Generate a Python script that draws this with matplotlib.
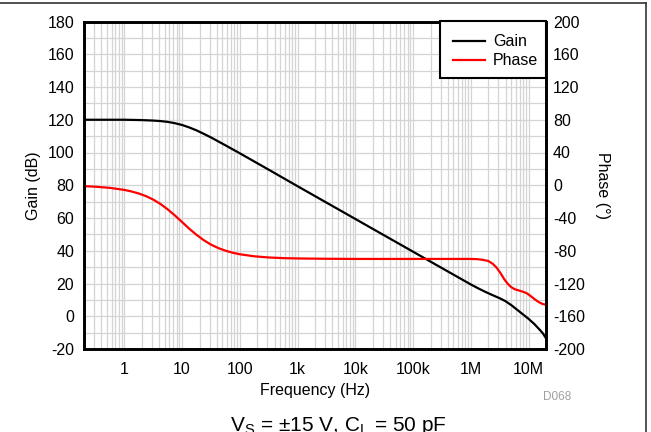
import matplotlib
matplotlib.use("Agg")
import matplotlib.pyplot as plt
from matplotlib.ticker import FixedLocator, MultipleLocator, NullFormatter, LogLocator
from matplotlib.lines import Line2D
from matplotlib.patches import Rectangle
import numpy as np

plt.rcParams['font.family'] = ['Liberation Sans', 'DejaVu Sans']
plt.rcParams['mathtext.fontset'] = 'custom'
plt.rcParams['mathtext.rm'] = 'Liberation Sans'
plt.rcParams['axes.unicode_minus'] = False

# ---- data ----
gain_freq = [0.2, 0.5, 1, 2, 3.16, 4.22, 5.62, 7.5, 10, 13.3, 17.8, 23.7, 31.6, 56.2, 100,
             316, 1e3, 3.16e3, 1e4, 3.16e4, 1e5, 3.16e5, 1e6, 1.33e6, 1.78e6, 2.37e6,
             3.16e6, 3.98e6, 5.01e6, 6.31e6, 7.94e6, 1e7, 1.26e7, 1.58e7, 1.78e7, 2e7]
gain_db = [120, 120, 120, 119.8, 119.5, 119.2, 118.7, 117.9, 116.8, 115.3, 113.5, 111.4, 109.2, 104.4, 99.5,
           89.5, 79.4, 69.4, 59.4, 49.4, 39.4, 29.4, 19.4, 17.1, 14.9, 12.9,
           11.0, 9.2, 6.8, 4.0, 1.2, -1.6, -4.8, -8.5, -10.6, -13.5]

phase_freq = [0.2, 0.316, 0.562, 1, 1.33, 1.78, 2.37, 3.16, 4.22, 5.62, 7.5, 10, 13.3, 17.8,
              23.7, 31.6, 42.2, 56.2, 75, 100, 178, 316, 562, 1e3, 3.16e3, 1e4, 1e5,
              1e6, 1.26e6, 1.58e6, 2e6, 2.4e6, 2.82e6, 3.31e6, 3.8e6, 4.37e6, 5.01e6,
              5.75e6, 6.76e6, 7.94e6, 9.33e6, 1.07e7, 1.26e7, 1.48e7, 1.74e7, 2e7]
phase_deg = [-1.1, -1.8, -3.2, -5.7, -7.6, -10.1, -13.3, -17.5, -22.9, -29.4, -36.9, -45, -53.1, -60.6,
             -67.1, -72.5, -76.7, -79.9, -82.4, -84.3, -86.8, -88.2, -89.0, -89.4, -89.8, -90, -90,
             -90, -90.2, -91, -92.5, -96, -101, -108, -115, -120.5, -124.5,
             -127, -128.5, -130, -132, -135, -139, -142.5, -145, -146]

xticks = [1, 10, 100, 1e3, 1e4, 1e5, 1e6, 1e7]
xticklabels = ['1', '10', '100', '1k', '10k', '100k', '1M', '10M']
gain_ticks = list(range(-20, 181, 20))
phase_ticks = list(range(-200, 201, 40))

W, H = 651, 432
AX_L, AX_R, AX_T, AX_B = 84, 546, 21.5, 349
fig = plt.figure(figsize=(W / 100, H / 100), dpi=100)
ax = fig.add_axes([AX_L / W, 1 - AX_B / H, (AX_R - AX_L) / W, (AX_B - AX_T) / H])
ax2 = ax.twinx()

ax.set_xscale('log')
ax.set_xlim(0.2, 2e7)
ax.set_ylim(-20, 180)
ax2.set_ylim(-200, 200)

ax.xaxis.set_major_locator(FixedLocator(xticks))
ax.set_xticklabels(xticklabels)
ax.xaxis.set_minor_locator(LogLocator(base=10, subs=np.arange(2, 10), numticks=100))
ax.xaxis.set_minor_formatter(NullFormatter())
ax.set_yticks(gain_ticks)
ax.yaxis.set_minor_locator(MultipleLocator(10))
ax2.set_yticks(phase_ticks)

ax.grid(True, which='both', color='#d4d4d4', linewidth=0.9)
ax.set_axisbelow(True)

ax.tick_params(axis='both', which='both', length=0, labelsize=11.5)
ax.tick_params(axis='y', pad=7)
ax.tick_params(axis='x', pad=9)
ax2.tick_params(axis='y', which='both', length=0, labelsize=11.5, pad=5)

for a in (ax, ax2):
    for s in a.spines.values():
        s.set_linewidth(1.9)
        s.set_color('black')

lg, = ax.plot(gain_freq, gain_db, color='black', linewidth=1.6, label='Gain')
lp, = ax2.plot(phase_freq, phase_deg, color='#ff0000', linewidth=1.6, label='Phase')

ax.set_xlabel('Frequency (Hz)', fontsize=11.5, labelpad=5)
ax.set_ylabel('Gain (dB)', fontsize=11.5, labelpad=5)
ax2.set_ylabel('Phase (°)', fontsize=11.5, rotation=-90, labelpad=18)

# legend box (frame drawn separately to match the reference's proportions)
axw, axh = AX_R - AX_L, AX_B - AX_T
box = Rectangle(((440 - AX_L) / axw, (AX_B - 78) / axh), (AX_R - 440) / axw, (78 - AX_T) / axh,
                transform=ax2.transAxes, facecolor='white', edgecolor='black',
                linewidth=1.5, zorder=4, clip_on=False)
ax2.add_patch(box)
leg = ax2.legend(handles=[lg, lp], loc='upper right', bbox_to_anchor=(1, 1 - 5 / axh),
                 borderaxespad=0, frameon=False, fontsize=11.5, handlelength=2.0,
                 handletextpad=0.5, labelspacing=0.25, borderpad=0.5)
leg.set_zorder(5)

fig.text(543 / W, 1 - 397.5 / H, 'D068', fontsize=8.5, color='#a0a0a0', ha='left', va='center')
fig.text(338 / W, 1 - 415 / H, r'V$_\mathregular{S}$ = ±15 V, C$_\mathregular{L}$ = 50 pF',
         fontsize=15, ha='center', va='top')

fig.add_artist(Line2D([0, 646 / W], [1 - 3 / H, 1 - 3 / H], transform=fig.transFigure,
                      color='#333333', linewidth=1.2))
fig.add_artist(Line2D([646 / W, 646 / W], [0, 1 - 3 / H], transform=fig.transFigure,
                      color='#333333', linewidth=1.2))

fig.savefig('out.png', dpi=100)
